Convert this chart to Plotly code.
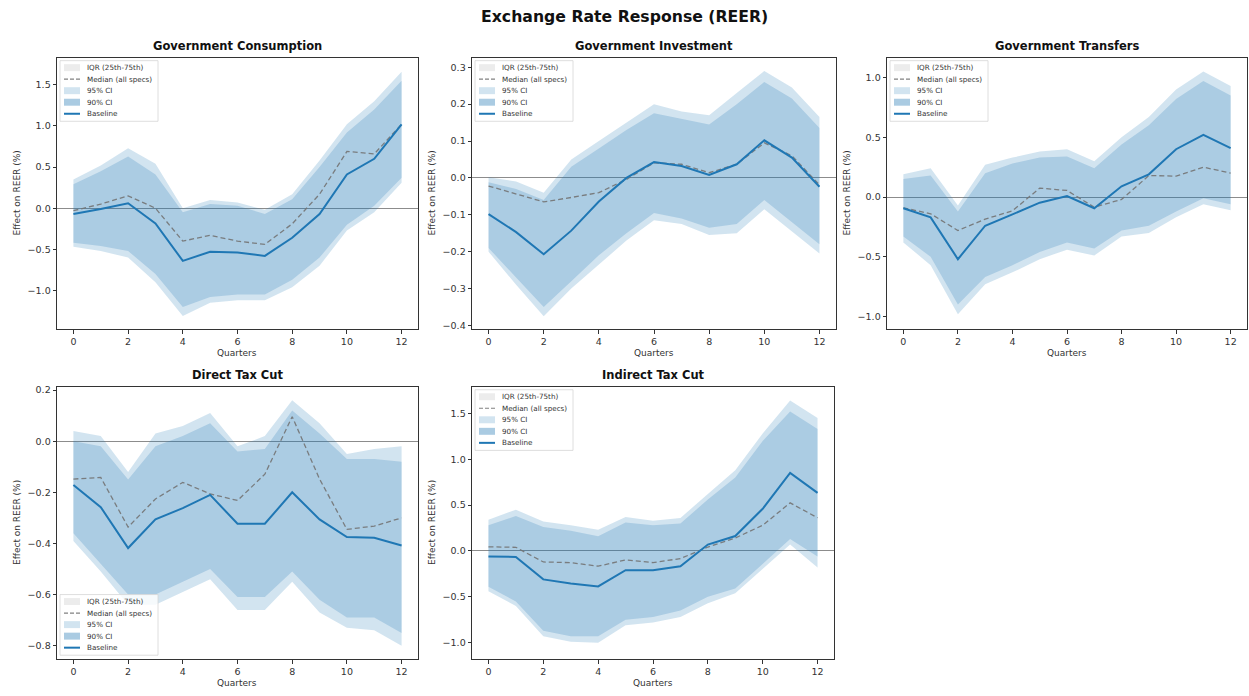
import plotly.graph_objects as go

W, H = 1249, 696

# ---------------- data ----------------
quarters = list(range(13))
x_ticks = [0, 2, 4, 6, 8, 10, 12]
legend_labels = ["IQR (25th-75th)", "Median (all specs)", "95% CI", "90% CI", "Baseline"]
panel_titles = ["Government Consumption", "Government Investment", "Government Transfers",
                "Direct Tax Cut", "Indirect Tax Cut"]

# Government Consumption
base_gc = [-0.07, -0.01, 0.06, -0.185, -0.64, -0.53, -0.54, -0.58, -0.36, -0.07, 0.41, 0.60, 1.02]
med_gc = [-0.03, 0.05, 0.15, 0.0, -0.40, -0.33, -0.40, -0.44, -0.19, 0.17, 0.69, 0.66, 1.02]
hi90_gc = [0.29, 0.45, 0.63, 0.41, -0.05, 0.05, 0.03, -0.07, 0.11, 0.50, 0.92, 1.20, 1.55]
hi95_gc = [0.35, 0.52, 0.73, 0.54, 0.0, 0.10, 0.07, -0.02, 0.17, 0.58, 1.02, 1.30, 1.66]
lo90_gc = [-0.42, -0.46, -0.52, -0.80, -1.20, -1.08, -1.05, -1.05, -0.87, -0.60, -0.20, 0.03, 0.37]
lo95_gc = [-0.47, -0.52, -0.60, -0.90, -1.31, -1.15, -1.12, -1.12, -0.96, -0.70, -0.27, -0.05, 0.31]

# Government Investment
base_gi = [-0.098, -0.147, -0.207, -0.143, -0.064, 0.0, 0.043, 0.032, 0.008, 0.037, 0.102, 0.055, -0.024]
med_gi = [-0.022, -0.044, -0.065, -0.053, -0.040, -0.004, 0.041, 0.037, 0.014, 0.037, 0.095, 0.060, -0.019]
hi90_gi = [-0.012, -0.030, -0.060, 0.030, 0.080, 0.130, 0.175, 0.160, 0.145, 0.200, 0.260, 0.215, 0.135]
hi95_gi = [0.002, -0.010, -0.040, 0.050, 0.100, 0.150, 0.200, 0.180, 0.170, 0.230, 0.290, 0.245, 0.165]
lo90_gi = [-0.190, -0.270, -0.350, -0.280, -0.210, -0.150, -0.095, -0.110, -0.135, -0.125, -0.060, -0.120, -0.180]
lo95_gi = [-0.200, -0.290, -0.375, -0.300, -0.235, -0.170, -0.115, -0.125, -0.155, -0.150, -0.085, -0.145, -0.205]

# Government Transfers
base_gt = [-0.094, -0.17, -0.52, -0.24, -0.145, -0.047, 0.008, -0.094, 0.09, 0.19, 0.40, 0.52, 0.41]
med_gt = [-0.09, -0.14, -0.28, -0.185, -0.115, 0.075, 0.055, -0.085, -0.02, 0.18, 0.175, 0.25, 0.20]
hi90_gt = [0.15, 0.18, -0.12, 0.20, 0.28, 0.33, 0.34, 0.24, 0.44, 0.60, 0.82, 0.97, 0.85]
hi95_gt = [0.19, 0.24, -0.07, 0.27, 0.33, 0.38, 0.40, 0.30, 0.50, 0.67, 0.90, 1.05, 0.93]
lo90_gt = [-0.33, -0.50, -0.90, -0.67, -0.57, -0.46, -0.38, -0.43, -0.28, -0.24, -0.12, -0.01, -0.06]
lo95_gt = [-0.38, -0.57, -0.98, -0.73, -0.63, -0.52, -0.44, -0.49, -0.33, -0.30, -0.17, -0.06, -0.11]

# Direct Tax Cut
base_dt = [-0.171, -0.258, -0.418, -0.306, -0.262, -0.21, -0.323, -0.323, -0.20, -0.306, -0.375, -0.378, -0.408]
med_dt = [-0.148, -0.142, -0.336, -0.226, -0.161, -0.206, -0.232, -0.129, 0.096, -0.148, -0.345, -0.332, -0.30]
hi90_dt = [0.0, -0.02, -0.15, -0.02, 0.02, 0.07, -0.04, -0.03, 0.12, 0.03, -0.07, -0.07, -0.08]
hi95_dt = [0.04, 0.02, -0.12, 0.03, 0.06, 0.11, -0.02, 0.02, 0.16, 0.07, -0.05, -0.03, -0.02]
lo90_dt = [-0.36, -0.48, -0.60, -0.60, -0.55, -0.50, -0.61, -0.61, -0.51, -0.62, -0.69, -0.69, -0.75]
lo95_dt = [-0.39, -0.51, -0.64, -0.64, -0.59, -0.54, -0.66, -0.66, -0.55, -0.67, -0.73, -0.74, -0.80]

# Indirect Tax Cut
base_it = [-0.06, -0.065, -0.31, -0.355, -0.387, -0.21, -0.21, -0.166, 0.07, 0.163, 0.46, 0.85, 0.633]
med_it = [0.045, 0.04, -0.12, -0.127, -0.166, -0.098, -0.127, -0.083, 0.043, 0.141, 0.28, 0.524, 0.362]
hi90_it = [0.28, 0.38, 0.26, 0.22, 0.16, 0.31, 0.28, 0.30, 0.56, 0.80, 1.20, 1.52, 1.33]
hi95_it = [0.34, 0.45, 0.32, 0.28, 0.23, 0.37, 0.33, 0.36, 0.62, 0.88, 1.28, 1.64, 1.45]
lo90_it = [-0.39, -0.55, -0.87, -0.93, -0.93, -0.75, -0.72, -0.65, -0.50, -0.41, -0.14, 0.13, -0.06]
lo95_it = [-0.44, -0.60, -0.93, -0.99, -1.00, -0.81, -0.78, -0.72, -0.57, -0.46, -0.20, 0.07, -0.18]

y_ranges = [[-1.47, 1.83], [-0.41, 0.326], [-1.105, 1.166], [-0.853, 0.213], [-1.18, 1.79]]
y_dticks = [0.5, 0.1, 0.5, 0.2, 0.5]

# ---------------- layout / style ----------------
FONT = "DejaVu Sans"
C0 = "#1f77b4"
FILL95 = "rgba(31,119,180,0.20)"
FILL90 = "rgba(31,119,180,0.22)"
MEDC = "rgba(115,115,115,0.9)"
IQRC = "rgba(128,128,128,0.15)"

# axis boxes in pixels: left, right, top, bottom
boxes = [(57, 418, 56, 329), (472, 836, 56, 329), (887, 1247, 56, 329),
         (57, 418, 387, 661), (472, 834, 387, 661)]
legend_pos = ["top", "top", "top", "bottom", "top"]

series = [
    (base_gc, med_gc, lo90_gc, hi90_gc, lo95_gc, hi95_gc),
    (base_gi, med_gi, lo90_gi, hi90_gi, lo95_gi, hi95_gi),
    (base_gt, med_gt, lo90_gt, hi90_gt, lo95_gt, hi95_gt),
    (base_dt, med_dt, lo90_dt, hi90_dt, lo95_dt, hi95_dt),
    (base_it, med_it, lo90_it, hi90_it, lo95_it, hi95_it),
]


def fx(px):
    return px / W


def fy(py):
    return 1 - py / H


fig = go.Figure()
annotations = []
shapes = []

for i, (base, med, lo90, hi90, lo95, hi95) in enumerate(series):
    n = i + 1
    xa = "x" if n == 1 else f"x{n}"
    ya = "y" if n == 1 else f"y{n}"
    band_x = quarters + quarters[::-1]
    fig.add_trace(go.Scatter(x=band_x, y=hi95 + lo95[::-1], fill="toself", fillcolor=FILL95,
                             line=dict(width=0), mode="lines", hoverinfo="skip",
                             showlegend=False, xaxis=xa, yaxis=ya, name="95% CI"))
    fig.add_trace(go.Scatter(x=band_x, y=hi90 + lo90[::-1], fill="toself", fillcolor=FILL90,
                             line=dict(width=0), mode="lines", hoverinfo="skip",
                             showlegend=False, xaxis=xa, yaxis=ya, name="90% CI"))
    fig.add_trace(go.Scatter(x=quarters, y=med, mode="lines",
                             line=dict(color=MEDC, width=1.3, dash="5px,3px"),
                             showlegend=False, xaxis=xa, yaxis=ya, name="Median (all specs)"))
    fig.add_trace(go.Scatter(x=quarters, y=base, mode="lines",
                             line=dict(color=C0, width=2),
                             showlegend=False, xaxis=xa, yaxis=ya, name="Baseline"))

    l, r, t, b = boxes[i]
    axis_common = dict(showline=True, mirror=True, linecolor="#333", linewidth=0.8,
                       ticks="outside", ticklen=3.5, tickwidth=0.8, tickcolor="#333",
                       showgrid=False,
                       tickfont=dict(family=FONT, size=9.5, color="#333"))
    fig.layout[f"xaxis{'' if n == 1 else n}"] = dict(
        domain=[fx(l), fx(r)], anchor=ya, range=[-0.6, 12.6], tickvals=x_ticks,
        zeroline=False, **axis_common)
    fig.layout[f"yaxis{'' if n == 1 else n}"] = dict(
        domain=[fy(b), fy(t)], anchor=xa, range=y_ranges[i], dtick=y_dticks[i], tick0=0,
        tickformat=".1f", zeroline=True, zerolinecolor="rgba(0,0,0,0.45)", zerolinewidth=0.9,
        **axis_common)

    cx = (l + r) / 2
    annotations.append(dict(text=f"<b>{panel_titles[i]}</b>", x=fx(cx), y=fy(t - 12),
                            xref="paper", yref="paper", showarrow=False,
                            font=dict(family=FONT, size=11.5, color="#111"),
                            xanchor="center", yanchor="middle"))
    annotations.append(dict(text="Quarters", x=fx(cx), y=fy(b + 24), xref="paper", yref="paper",
                            showarrow=False, font=dict(family=FONT, size=9, color="#333"),
                            xanchor="center", yanchor="middle"))
    annotations.append(dict(text="Effect on REER (%)", x=fx(l - 40), y=fy((t + b) / 2),
                            xref="paper", yref="paper", showarrow=False, textangle=-90,
                            font=dict(family=FONT, size=9, color="#333"),
                            xanchor="center", yanchor="middle"))

    # compact legend drawn inside each panel
    bw, bh = 98, 61
    bx = l + 3
    by = t + 3 if legend_pos[i] == "top" else b - 4 - bh
    shapes.append(dict(type="rect", xref="paper", yref="paper",
                       x0=fx(bx), x1=fx(bx + bw), y0=fy(by), y1=fy(by + bh),
                       fillcolor="rgba(255,255,255,0.8)", line=dict(color="#d5d5d5", width=0.8),
                       layer="above"))
    for k, lab in enumerate(legend_labels):
        ry = by + 7 + k * 11.6
        px0, px1 = bx + 4, bx + 20
        if lab == "IQR (25th-75th)":
            shapes.append(dict(type="rect", xref="paper", yref="paper", x0=fx(px0), x1=fx(px1),
                               y0=fy(ry - 3.5), y1=fy(ry + 3.5), fillcolor=IQRC,
                               line=dict(width=0), layer="above"))
        elif lab == "95% CI":
            shapes.append(dict(type="rect", xref="paper", yref="paper", x0=fx(px0), x1=fx(px1),
                               y0=fy(ry - 3.5), y1=fy(ry + 3.5), fillcolor=FILL95,
                               line=dict(width=0), layer="above"))
        elif lab == "90% CI":
            shapes.append(dict(type="rect", xref="paper", yref="paper", x0=fx(px0), x1=fx(px1),
                               y0=fy(ry - 3.5), y1=fy(ry + 3.5), fillcolor="rgba(31,119,180,0.38)",
                               line=dict(width=0), layer="above"))
        elif lab == "Median (all specs)":
            shapes.append(dict(type="line", xref="paper", yref="paper", x0=fx(px0), x1=fx(px1),
                               y0=fy(ry), y1=fy(ry), line=dict(color=MEDC, width=1.2, dash="4px,2px"),
                               layer="above"))
        else:
            shapes.append(dict(type="line", xref="paper", yref="paper", x0=fx(px0), x1=fx(px1),
                               y0=fy(ry), y1=fy(ry), line=dict(color=C0, width=2), layer="above"))
        annotations.append(dict(text=lab, x=fx(bx + 25), y=fy(ry), xref="paper", yref="paper",
                                showarrow=False, xanchor="left", yanchor="middle",
                                font=dict(family=FONT, size=7.2, color="#333")))

annotations.append(dict(text="<b>Exchange Rate Response (REER)</b>", x=0.5, y=fy(15),
                        xref="paper", yref="paper", showarrow=False,
                        font=dict(family=FONT, size=15.7, color="#111"),
                        xanchor="center", yanchor="middle"))

fig.update_layout(width=W, height=H, margin=dict(l=0, r=0, t=0, b=0),
                  paper_bgcolor="white", plot_bgcolor="white",
                  showlegend=False, annotations=annotations, shapes=shapes,
                  font=dict(family=FONT))

fig.write_html("out.html", config={"displayModeBar": False},
               post_script="document.body.style.margin='0';")
